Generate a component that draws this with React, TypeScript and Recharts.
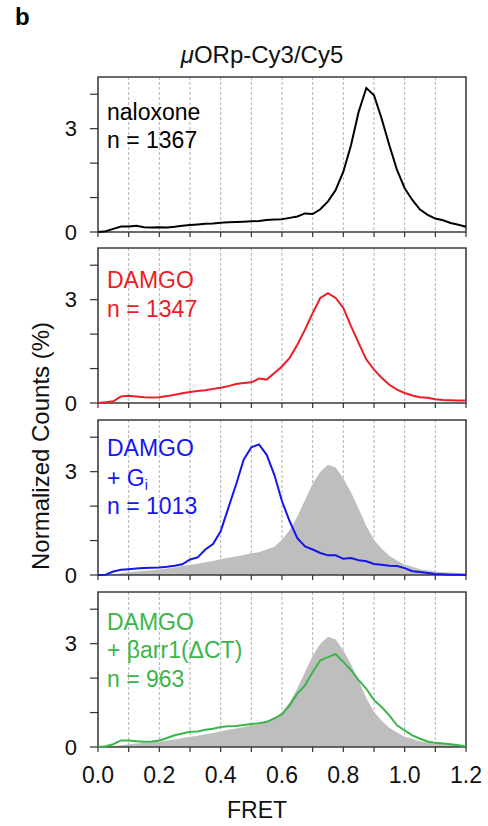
import { ComposedChart, Line, Area, XAxis, YAxis, CartesianGrid, ReferenceArea } from "recharts"

const font = "'Liberation Sans', Arial, Helvetica, sans-serif"

// FRET bins
const fret = [
  0, 0.025, 0.05, 0.075, 0.1, 0.125, 0.15, 0.175, 0.2, 0.225, 0.25, 0.275, 0.3, 0.325, 0.35, 0.375,
  0.4, 0.425, 0.45, 0.475, 0.5, 0.525, 0.55, 0.575, 0.6, 0.625, 0.65, 0.675, 0.7, 0.725, 0.75, 0.775,
  0.8, 0.825, 0.85, 0.875, 0.9, 0.925, 0.95, 0.975, 1.0, 1.025, 1.05, 1.075, 1.1, 1.125, 1.15, 1.175, 1.2,
]

const naloxone = [
  0, 0.02, 0.09, 0.16, 0.16, 0.18, 0.14, 0.13, 0.14, 0.13, 0.15, 0.18, 0.2, 0.22, 0.24, 0.25,
  0.27, 0.28, 0.29, 0.3, 0.31, 0.32, 0.35, 0.36, 0.37, 0.41, 0.45, 0.54, 0.52, 0.66, 0.89, 1.22,
  1.75, 2.52, 3.49, 4.18, 3.97, 3.29, 2.52, 1.8, 1.27, 0.93, 0.65, 0.5, 0.39, 0.34, 0.26, 0.21, 0.15,
]

const damgo = [
  0, 0.02, 0.05, 0.19, 0.21, 0.19, 0.17, 0.16, 0.17, 0.2, 0.24, 0.28, 0.32, 0.35, 0.37, 0.41,
  0.44, 0.49, 0.55, 0.58, 0.6, 0.71, 0.68, 0.87, 1.06, 1.31, 1.69, 2.13, 2.61, 3.05, 3.19, 3.05,
  2.76, 2.23, 1.74, 1.26, 0.97, 0.73, 0.53, 0.39, 0.29, 0.22, 0.17, 0.15, 0.11, 0.09, 0.08, 0.07, 0.07,
]

const damgoGi = [
  0, 0.01, 0.1, 0.15, 0.17, 0.19, 0.2, 0.21, 0.22, 0.24, 0.27, 0.31, 0.45, 0.51, 0.74, 0.9,
  1.27, 1.95, 2.62, 3.35, 3.71, 3.79, 3.49, 2.91, 2.14, 1.56, 1.07, 0.83, 0.74, 0.64, 0.57, 0.57,
  0.47, 0.49, 0.43, 0.4, 0.32, 0.3, 0.27, 0.26, 0.2, 0.11, 0.09, 0.06, 0.03, 0.02, 0.01, 0.01, 0,
]

const damgoArr = [
  0, 0.02, 0.08, 0.19, 0.19, 0.17, 0.15, 0.16, 0.19, 0.26, 0.34, 0.39, 0.44, 0.45, 0.5, 0.53,
  0.58, 0.6, 0.61, 0.64, 0.67, 0.69, 0.73, 0.83, 0.95, 1.21, 1.55, 1.79, 2.18, 2.52, 2.61, 2.7,
  2.47, 2.23, 1.94, 1.69, 1.36, 1.16, 0.92, 0.63, 0.48, 0.34, 0.24, 0.16, 0.12, 0.1, 0.08, 0.05, 0.02,
]

// grey DAMGO reference shown behind the last two panels
const damgoRef = [
  0, 0, 0.02, 0.05, 0.08, 0.1, 0.12, 0.14, 0.16, 0.19, 0.22, 0.26, 0.3, 0.33, 0.37, 0.41,
  0.46, 0.5, 0.54, 0.58, 0.63, 0.66, 0.74, 0.82, 1.02, 1.3, 1.7, 2.18, 2.65, 3.0, 3.2, 3.12,
  2.8, 2.4, 1.92, 1.42, 1.02, 0.76, 0.56, 0.42, 0.3, 0.24, 0.17, 0.13, 0.1, 0.08, 0.07, 0.06, 0.05,
]

const xTicks = [0, 0.1, 0.2, 0.3, 0.4, 0.5, 0.6, 0.7, 0.8, 0.9, 1.0, 1.1, 1.2]
const xLabels = [0, 0.2, 0.4, 0.6, 0.8, 1.0, 1.2]
const yTicks = [0, 1, 2, 3, 4]
const yLabels = [0, 3]

const PLOT_H = 155

function Panel({ top, series, color, showRef, last }: any) {
  const data = fret.map((x, i) => ({ x, y: series[i], ref: damgoRef[i] }))
  const xh = last ? 45 : 14
  return (
    <div style={{ position: "absolute", left: 0, top: top - 2 }}>
      <ComposedChart
        width={488}
        height={PLOT_H + xh + 2}
        data={data}
        margin={{ top: 2, right: 22, bottom: 0, left: 0 }}
        style={{ overflow: "visible" }}
      >
        <CartesianGrid horizontal={false} stroke="#a0a0a0" strokeDasharray="3 2" strokeWidth={0.8} />
        <XAxis
          type="number"
          dataKey="x"
          domain={[0, 1.2]}
          ticks={xTicks}
          interval={0}
          height={xh}
          tickSize={5}
          tickMargin={15}
          axisLine={false}
          tickLine={{ stroke: "#333", strokeWidth: 1.2 }}
          tick={{ fill: "#111", fontSize: 23, fontFamily: font }}
          tickFormatter={(v: number) => (last && xLabels.some((l) => Math.abs(l - v) < 1e-6) ? v.toFixed(1) : "")}
        />
        <YAxis
          type="number"
          domain={[0, 4.5]}
          ticks={yTicks}
          interval={0}
          width={98}
          tickSize={8}
          tickMargin={13}
          axisLine={false}
          tickLine={{ stroke: "#333", strokeWidth: 1.2 }}
          tick={{ fill: "#111", fontSize: 22, fontFamily: font }}
          tickFormatter={(v: number) => (yLabels.includes(v) ? String(v) : "")}
        />
        {showRef && (
          <Area type="linear" dataKey="ref" stroke="none" fill="#bebebe" fillOpacity={1} isAnimationActive={false} />
        )}
        <Line type="linear" dataKey="y" stroke={color} strokeWidth={2} dot={false} isAnimationActive={false} />
        <ReferenceArea x1={0} x2={1.2} y1={0} y2={4.5} fill="none" stroke="#3a3a3a" strokeWidth={1.5} ifOverflow="visible" />
      </ComposedChart>
    </div>
  )
}

export default function App() {
  const t = { fontFamily: font, fontSize: 23 }
  return (
    <div style={{ position: "absolute", left: 0, top: 0, width: 488, height: 826, background: "#fff" }}>
      <Panel top={77} series={naloxone} color="#000000" />
      <Panel top={248} series={damgo} color="#ee1c25" />
      <Panel top={420} series={damgoGi} color="#1515f0" showRef />
      <Panel top={592} series={damgoArr} color="#3bb54a" showRef last />
      <svg width={488} height={826} style={{ position: "absolute", left: 0, top: 0, pointerEvents: "none" }}>
        <text x={15} y={25} fontFamily={font} fontSize={24} fontWeight="bold" fill="#000">b</text>
        <text x={262} y={63} textAnchor="middle" fontFamily={font} fontSize={24} fill="#111">
          <tspan fontStyle="italic">μ</tspan>ORp-Cy3/Cy5
        </text>
        <text x={49} y={446} textAnchor="middle" fontFamily={font} fontSize={24} fill="#111"
          transform="rotate(-90 49 446)">
          Normalized Counts (%)
        </text>
        <text x={257} y={818} textAnchor="middle" fontFamily={font} fontSize={23} fill="#111">FRET</text>

        <g {...t} fill="#000">
          <text x={107} y={120}>naloxone</text>
          <text x={107} y={148}>n = 1367</text>
        </g>
        <g {...t} fill="#ee1c25">
          <text x={107} y={288}>DAMGO</text>
          <text x={107} y={317}>n = 1347</text>
        </g>
        <g {...t} fill="#1515f0">
          <text x={107} y={456}>DAMGO</text>
          <text x={107} y={486}>+ G<tspan fontSize={14} dy={4}>i</tspan></text>
          <text x={107} y={514}>n = 1013</text>
        </g>
        <g {...t} fill="#3bb54a">
          <text x={107} y={630}>DAMGO</text>
          <text x={107} y={658}>+ βarr1(ΔCT)</text>
          <text x={107} y={687}>n = 963</text>
        </g>
      </svg>
    </div>
  )
}
